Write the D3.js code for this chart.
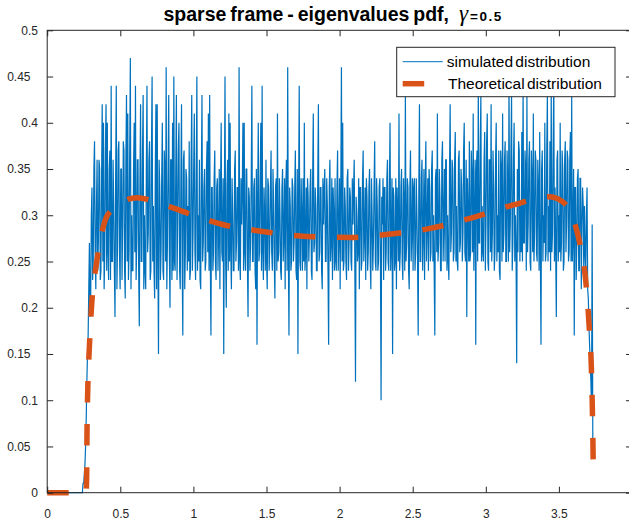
<!DOCTYPE html>
<html><head><meta charset="utf-8">
<script src="https://cdn.jsdelivr.net/npm/d3@7"></script>
<style>
body{margin:0;background:#fff;}
svg{display:block;}
</style></head>
<body>
<svg id="chart" width="629" height="528"></svg>
<script>
// ---------- data ----------
const titleMain = "sparse frame - eigenvalues pdf,";
const titleGreek = "\u03B3";
const titleValue = "=0.5";
const seriesNames = ["simulated distribution", "Theoretical distribution"];

const xTickValues = [0, 0.5, 1, 1.5, 2, 2.5, 3, 3.5];
const xTickLabels = ["0", "0.5", "1", "1.5", "2", "2.5", "3", "3.5"];
const yTickValues = [0, 0.05, 0.1, 0.15, 0.2, 0.25, 0.3, 0.35, 0.4, 0.45, 0.5];
const yTickLabels = ["0", "0.05", "0.1", "0.15", "0.2", "0.25", "0.3", "0.35", "0.4", "0.45", "0.5"];

// simulated histogram: bin width and bin heights (from x = 0)
const simBinWidth = 0.004375;
const simValues = [
0,0,0,0,0,0,0,0,0,0,0,0,0,0,0,0,0,0,0,0,0,0,0,0,0,0,0,0,
0,0,0,0,0,0,0,0,0,0,0,0,0,0,0,0,0,0,0,0,0,0,0,0,0,0,0,0,
0.01,0.01,0.02,0.03,0.05,0.08,0.12,0.15,0.17,0.22,0.27,0.19,0.21,0.30,0.33,0.23,0.25,0.35,0.38,0.26,0.22,0.31,0.36,0.24,
0.27,0.36,0.35,0.23,0.24,0.34,0.42,0.25,0.40,0.22,0.26,0.37,0.42,0.24,0.40,0.26,0.23,0.35,0.37,0.23,
0.44,0.25,0.25,0.36,0.31,0.24,0.19,0.34,0.44,0.22,0.27,0.37,0.38,0.26,0.22,0.35,0.35,0.23,0.29,0.38,
0.37,0.24,0.21,0.36,0.43,0.25,0.41,0.23,0.26,0.37,0.47,0.22,0.30,0.24,0.24,0.35,0.40,0.26,0.44,0.23,
0.27,0.36,0.36,0.24,0.18,0.34,0.42,0.25,0.25,0.37,0.43,0.22,0.30,0.24,0.22,0.35,0.44,0.26,0.28,0.36,
0.38,0.23,0.24,0.37,0.45,0.25,0.31,0.24,0.21,0.35,0.42,0.22,0.42,0.26,0.15,0.36,0.33,0.23,0.26,0.34,
0.40,0.24,0.23,0.37,0.35,0.25,0.46,0.22,0.27,0.35,0.43,0.26,0.20,0.36,0.36,0.23,0.40,0.24,0.45,0.25,
0.24,0.35,0.43,0.23,0.29,0.37,0.40,0.24,0.22,0.34,0.42,0.25,0.17,0.36,0.37,0.22,0.26,0.35,0.34,0.24,
0.31,0.25,0.38,0.23,0.24,0.36,0.43,0.24,0.28,0.35,0.41,0.26,0.23,0.34,0.45,0.24,0.30,0.25,0.36,0.23,
0.22,0.34,0.43,0.25,0.27,0.33,0.35,0.24,0.25,0.35,0.38,0.26,0.41,0.24,0.43,0.25,0.17,0.33,0.33,0.24,
0.26,0.34,0.37,0.25,0.23,0.33,0.34,0.24,0.28,0.35,0.22,0.33,0.40,0.26,0.25,0.34,0.15,0.32,0.45,0.25,
0.20,0.33,0.36,0.24,0.41,0.25,0.40,0.26,0.22,0.34,0.30,0.24,0.24,0.35,0.37,0.25,0.27,0.33,0.33,0.24,
0.46,0.25,0.23,0.34,0.29,0.33,0.40,0.24,0.40,0.26,0.24,0.35,0.35,0.25,0.19,0.33,0.32,0.24,0.27,0.34,
0.44,0.25,0.25,0.33,0.34,0.24,0.22,0.35,0.16,0.32,0.40,0.25,0.26,0.34,0.40,0.24,0.44,0.26,0.23,0.33,
0.30,0.24,0.36,0.25,0.22,0.34,0.33,0.24,0.27,0.33,0.37,0.26,0.24,0.35,0.31,0.25,0.21,0.33,0.34,0.24,
0.41,0.25,0.26,0.34,0.30,0.24,0.23,0.33,0.35,0.25,0.28,0.34,0.22,0.33,0.36,0.24,0.46,0.26,0.17,0.33,
0.31,0.24,0.25,0.34,0.33,0.25,0.27,0.33,0.37,0.24,0.23,0.35,0.15,0.32,0.44,0.25,0.24,0.34,0.30,0.24,
0.34,0.25,0.40,0.24,0.26,0.33,0.22,0.34,0.32,0.25,0.28,0.33,0.35,0.24,0.23,0.34,0.41,0.26,0.27,0.33,
0.31,0.24,0.24,0.34,0.42,0.25,0.26,0.33,0.33,0.24,0.22,0.34,0.29,0.33,0.35,0.25,0.25,0.34,0.31,0.24,
0.16,0.33,0.36,0.25,0.27,0.34,0.23,0.33,0.30,0.24,0.34,0.25,0.24,0.33,0.37,0.24,0.28,0.34,0.22,0.33,
0.46,0.25,0.40,0.24,0.25,0.33,0.31,0.25,0.23,0.34,0.35,0.24,0.27,0.33,0.32,0.25,0.24,0.34,0.29,0.33,
0.36,0.24,0.12,0.32,0.30,0.25,0.26,0.34,0.22,0.33,0.33,0.24,0.25,0.34,0.37,0.25,0.28,0.33,0.23,0.34,
0.32,0.24,0.26,0.33,0.35,0.25,0.22,0.34,0.30,0.24,0.27,0.33,0.38,0.25,0.24,0.34,0.31,0.24,0.25,0.33,
0.34,0.25,0.10,0.32,0.29,0.34,0.23,0.33,0.33,0.24,0.26,0.34,0.36,0.25,0.24,0.33,0.40,0.24,0.27,0.34,
0.15,0.33,0.32,0.24,0.25,0.34,0.22,0.33,0.30,0.25,0.41,0.24,0.26,0.33,0.35,0.25,0.23,0.34,0.31,0.24,
0.43,0.25,0.27,0.34,0.33,0.24,0.22,0.33,0.37,0.25,0.28,0.34,0.24,0.33,0.34,0.24,0.26,0.34,0.30,0.25,
0.17,0.33,0.42,0.25,0.25,0.34,0.36,0.24,0.28,0.35,0.23,0.33,0.38,0.25,0.29,0.34,0.24,0.35,0.33,0.25,
0.26,0.35,0.37,0.25,0.30,0.24,0.17,0.34,0.35,0.26,0.41,0.25,0.27,0.35,0.32,0.24,0.24,0.36,0.38,0.25,
0.29,0.35,0.25,0.36,0.36,0.24,0.30,0.25,0.23,0.35,0.42,0.26,0.28,0.36,0.35,0.25,0.26,0.36,0.39,0.25,
0.31,0.25,0.24,0.36,0.37,0.26,0.27,0.35,0.33,0.25,0.28,0.37,0.40,0.26,0.25,0.36,0.19,0.34,0.30,0.25,
0.38,0.25,0.26,0.37,0.34,0.26,0.41,0.24,0.29,0.36,0.16,0.35,0.37,0.25,0.44,0.27,0.27,0.37,0.43,0.25,
0.31,0.26,0.25,0.36,0.39,0.24,0.29,0.38,0.41,0.25,0.24,0.36,0.36,0.26,0.42,0.25,0.28,0.37,0.33,0.24,
0.26,0.36,0.40,0.25,0.30,0.26,0.37,0.24,0.23,0.37,0.35,0.25,0.41,0.26,0.28,0.36,0.38,0.25,0.25,0.37,
0.33,0.25,0.45,0.26,0.29,0.37,0.43,0.24,0.27,0.36,0.40,0.25,0.30,0.26,0.14,0.35,0.26,0.38,0.37,0.25,
0.31,0.26,0.39,0.25,0.44,0.27,0.27,0.37,0.35,0.24,0.43,0.26,0.29,0.36,0.38,0.25,0.24,0.37,0.34,0.26,
0.41,0.25,0.28,0.37,0.36,0.26,0.25,0.36,0.33,0.24,0.39,0.26,0.16,0.35,0.37,0.25,0.30,0.27,0.40,0.25,
0.26,0.37,0.43,0.25,0.31,0.26,0.38,0.24,0.44,0.26,0.28,0.37,0.45,0.25,0.33,0.26,0.19,0.36,0.37,0.25,
0.30,0.26,0.40,0.25,0.27,0.37,0.35,0.24,0.25,0.36,0.38,0.26,0.29,0.37,0.36,0.25,0.26,0.36,0.39,0.25,
0.43,0.25,0.28,0.35,0.17,0.33,0.33,0.23,0.27,0.34,0.35,0.24,0.24,0.34,0.34,0.22,0.29,0.33,0.31,0.23,
0.31,0.26,0.24,0.30,0.33,0.22,0.21,0.18,0.16,0.14,0.12,0.09,0.29,0.06,0.04
];

// theoretical density (x, pdf)
const theoryX = [0, 0.266, 0.27, 0.272, 0.277, 0.288, 0.304, 0.338, 0.395, 0.441, 0.52, 0.612, 0.75, 0.86, 1.0, 1.2, 1.475, 1.774, 2.07, 2.364, 2.594, 2.9, 3.184, 3.436, 3.551, 3.628, 3.649, 3.683, 3.707, 3.722, 3.729, 3.735];
const theoryY = [0, 0, 0.017, 0.062, 0.109, 0.156, 0.203, 0.249, 0.294, 0.306, 0.315, 0.319, 0.314, 0.308, 0.300, 0.290, 0.2825, 0.277, 0.276, 0.280, 0.285, 0.297, 0.311, 0.320, 0.311, 0.280, 0.265, 0.230, 0.180, 0.135, 0.090, 0.030];

// ---------- layout ----------
const L = 47.2, R = 632, T = 30.3, B = 492.7;
const blue = "#0072BD", orange = "#D95319", axisCol = "#262626";
const tickFont = "'Liberation Sans Narrow','Arial Narrow','Liberation Sans',sans-serif";
const sansFont = "'Liberation Sans',Arial,sans-serif";

const svg = d3.select("#chart");
const x = d3.scaleLinear().domain([0, 4]).range([L, R]);
const y = d3.scaleLinear().domain([0, 0.5]).range([B, T]);

const simData = simValues.map((v, i) => ({x: i * simBinWidth, y: v}));
const theoryData = theoryX.map((v, i) => ({x: v, y: theoryY[i]}));

const g = svg.append("g");
g.append("path")
  .datum(simData)
  .attr("fill", "none")
  .attr("stroke", blue)
  .attr("stroke-width", 1.2)
  .attr("d", d3.line().x(d => x(d.x)).y(d => y(d.y)));

g.append("path")
  .datum(theoryData)
  .attr("fill", "none")
  .attr("stroke", orange)
  .attr("stroke-width", 5.5)
  .attr("stroke-dasharray", "21.5 21.5")
  .attr("stroke-linecap", "butt")
  .attr("d", d3.line().x(d => x(d.x)).y(d => y(d.y)).curve(d3.curveMonotoneX));

// axes
function styleAxis(sel) {
  sel.select(".domain").remove();
  sel.selectAll(".tick line").attr("stroke", axisCol).attr("stroke-width", 1);
  sel.selectAll(".tick text").attr("fill", axisCol)
     .style("font-family", tickFont).style("font-size", "12px");
}
const xAxisB = svg.append("g").attr("transform", `translate(0,${B})`)
  .call(d3.axisBottom(x).tickValues(xTickValues).tickFormat((d, i) => xTickLabels[i]).tickSizeInner(-6).tickSizeOuter(0).tickPadding(16.5));
styleAxis(xAxisB);
const xAxisT = svg.append("g").attr("transform", `translate(0,${T})`)
  .call(d3.axisTop(x).tickValues(xTickValues).tickFormat("").tickSizeInner(-6).tickSizeOuter(0));
styleAxis(xAxisT);
const yAxisL = svg.append("g").attr("transform", `translate(${L},0)`)
  .call(d3.axisLeft(y).tickValues(yTickValues).tickFormat((d, i) => yTickLabels[i]).tickSizeInner(-6).tickSizeOuter(0).tickPadding(9.5));
styleAxis(yAxisL);
yAxisL.selectAll(".tick text").attr("x", function() {
  return this.textContent.length > 3 ? -(L - 30.5) : -(L - 38);
});
const yAxisR = svg.append("g").attr("transform", `translate(${R},0)`)
  .call(d3.axisRight(y).tickValues(yTickValues).tickFormat("").tickSizeInner(-6).tickSizeOuter(0));
styleAxis(yAxisR);

// box
svg.append("rect")
  .attr("x", L).attr("y", T).attr("width", R - L).attr("height", B - T)
  .attr("fill", "none").attr("stroke", axisCol).attr("stroke-width", 1);

// title
const title = svg.append("text")
  .attr("x", 163.5).attr("y", 21)
  .attr("fill", "#000")
  .style("font-family", sansFont).style("font-weight", "bold").style("font-size", "19.5px")
  .attr("word-spacing", "-1.5");
title.append("tspan").text(titleMain);
title.append("tspan").attr("dx", 10).text(titleGreek)
  .style("font-family", "'Liberation Serif','Times New Roman',serif")
  .style("font-style", "italic").style("font-weight", "normal").style("font-size", "23px");
title.append("tspan").attr("dx", 2).text(titleValue).style("font-size", "13.5px").attr("letter-spacing", "1.5");

// legend
const lg = svg.append("g");
lg.append("rect").attr("x", 396.7).attr("y", 47.3).attr("width", 218.3).attr("height", 49.4)
  .attr("fill", "#fff").attr("stroke", axisCol).attr("stroke-width", 1);
lg.append("line").attr("x1", 402.7).attr("x2", 442.7).attr("y1", 61.7).attr("y2", 61.7)
  .attr("stroke", blue).attr("stroke-width", 1);
lg.append("line").attr("x1", 402.7).attr("x2", 442.7).attr("y1", 83.7).attr("y2", 83.7)
  .attr("stroke", orange).attr("stroke-width", 5.5).attr("stroke-dasharray", "21.5 21.5");
lg.append("text").attr("x", 446.7).attr("y", 67.3).text(seriesNames[0])
  .style("font-family", sansFont).style("font-size", "15.5px").attr("fill", "#000").attr("word-spacing", "-2");
lg.append("text").attr("x", 448).attr("y", 89.3).text(seriesNames[1])
  .style("font-family", sansFont).style("font-size", "15.5px").attr("fill", "#000").attr("word-spacing", "-2");
</script>
</body></html>
